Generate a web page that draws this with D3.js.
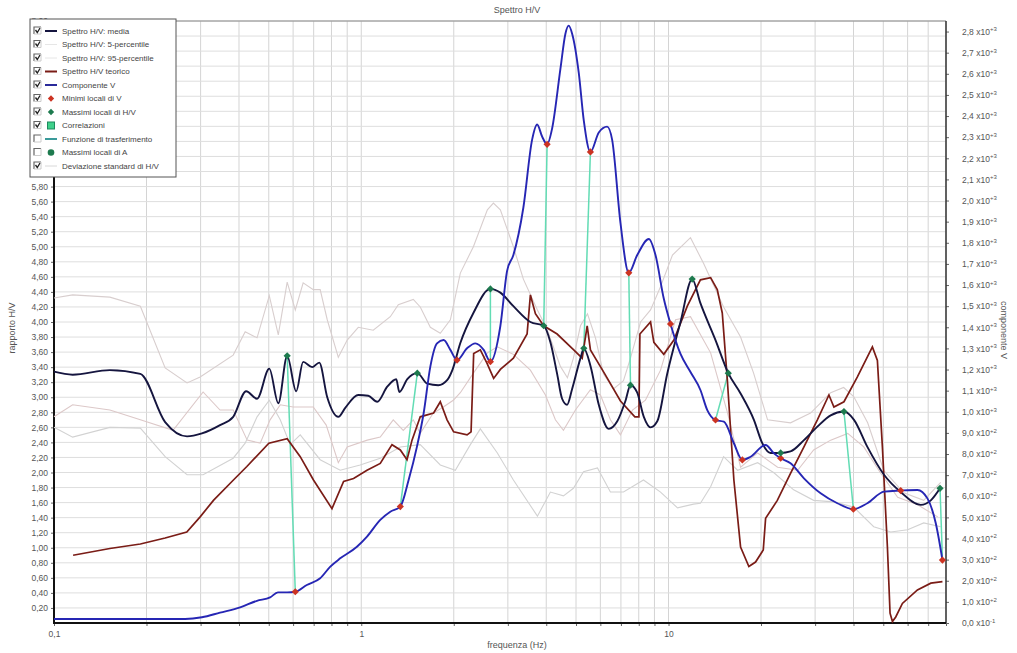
<!DOCTYPE html>
<html>
<head>
<meta charset="utf-8">
<script src="https://cdn.jsdelivr.net/npm/d3@7"></script>
<style>
  body { margin: 0; background: #fff; }
  text { font-family: "Liberation Sans", Arial, sans-serif; }
</style>
</head>
<body>
<svg id="chart" width="1017" height="653"></svg>
<script>
// ---- data: [frequenza Hz, valore] ----
var media = [[0.1,3.34],[0.115,3.30],[0.152,3.36],[0.191,3.31],[0.230,2.67],[0.271,2.48],[0.303,2.52],
  [0.347,2.63],[0.383,2.74],[0.422,3.08],[0.458,2.98],[0.502,3.38],[0.537,2.92],[0.574,3.55],[0.614,3.08],
  [0.647,3.47],[0.692,3.40],[0.730,3.46],[0.775,3.00],[0.842,2.74],[0.887,2.86],[0.978,3.03],[1.054,3.02],
  [1.127,2.94],[1.215,3.14],[1.300,3.24],[1.33,3.07],[1.412,3.24],[1.522,3.32],[1.641,3.18],[1.781,3.16],
  [1.906,3.23],[1.979,3.36],[2.101,3.72],[2.317,4.12],[2.632,4.44],[2.836,4.39],[3.127,4.21],[3.552,4.00],
  [3.925,3.95],[4.127,3.73],[4.340,3.31],[4.505,2.98],[4.677,2.90],[4.856,3.11],[5.17,3.52],[5.30,3.65],
  [5.57,3.42],[5.93,2.90],[6.39,2.58],[6.81,2.68],[7.24,2.95],[7.52,3.16],[7.91,3.06],[8.31,2.74],
  [8.74,2.60],[9.19,2.68],[9.90,3.31],[10.94,4.00],[11.94,4.57],[12.70,4.25],[14.22,3.76],[15.65,3.32],
  [17.16,3.05],[18.96,2.70],[20.19,2.39],[21.48,2.26],[23.17,2.26],[24.95,2.28],[27.59,2.43],[30.51,2.61],
  [33.71,2.76],[37.24,2.81],[40.15,2.70],[44.38,2.34],[50.27,1.97],[56.97,1.74],[66.2,1.57],[71.4,1.63],
  [76.5,1.79]];

var teorico = [[0.1154,0.90],[0.152,0.99],[0.191,1.05],[0.230,1.13],[0.2705,1.21],[0.299,1.41],[0.3303,1.63],
  [0.3837,1.90],[0.4243,2.08],[0.5004,2.39],[0.574,2.45],[0.633,2.21],[0.699,1.90],[0.803,1.52],[0.876,1.88],
  [0.944,1.92],[1.044,2.03],[1.153,2.12],[1.259,2.37],[1.340,2.30],[1.409,2.17],[1.463,2.43],[1.556,2.74],
  [1.720,2.79],[1.808,2.94],[1.902,2.70],[1.998,2.54],[2.210,2.50],[2.277,2.54],[2.322,3.58],[2.441,3.63],
  [2.567,3.45],[2.697,3.25],[2.836,3.37],[3.127,3.52],[3.465,3.84],[3.552,4.36],[3.688,4.11],[3.925,3.95],
  [4.340,3.84],[4.914,3.63],[5.237,3.52],[5.436,3.95],[5.57,3.63],[6.201,3.31],[6.976,2.95],[7.77,2.74],
  [8.01,2.74],[8.07,3.84],[8.74,4.00],[8.96,3.73],[9.65,3.57],[10.41,3.76],[11.51,4.21],[12.70,4.56],
  [13.71,4.59],[14.41,4.43],[14.96,4.12],[15.54,3.23],[16.32,1.90],[17.16,1.01],[18.26,0.75],[19.20,0.81],
  [20.34,0.97],[20.70,1.39],[22.60,1.63],[24.95,1.99],[27.59,2.34],[30.51,2.70],[33.27,3.03],[34.54,2.87],
  [37.24,2.94],[41.18,3.27],[46.08,3.67],[47.84,3.49],[49.67,2.34],[51.57,1.01],[52.6,0.13],[53.55,0.02],
  [54.89,0.08],[57.7,0.26],[64.59,0.44],[71.4,0.53],[77.9,0.55]];

var componenteV = [[0.1,19],[0.267,19],[0.303,27],[0.347,49],[0.4035,74],[0.4575,105],[0.505,121],[0.5356,145],
  [0.574,145],[0.610,148],[0.665,180],[0.735,212],[0.793,267],[0.854,306],[0.968,361],[1.044,409],[1.153,488],
  [1.243,527],[1.340,551],[1.426,677],[1.518,835],[1.596,993],[1.678,1214],[1.764,1324],[1.854,1340],
  [1.950,1293],[2.050,1245],[2.210,1301],[2.351,1324],[2.503,1293],[2.632,1237],[2.836,1406],[2.983,1667],
  [3.127,1742],[3.37,1967],[3.597,2287],[3.735,2360],[3.878,2303],[4.026,2266],[4.18,2341],[4.448,2623],
  [4.618,2790],[4.733,2828],[4.856,2790],[5.104,2604],[5.30,2378],[5.57,2230],[5.93,2322],[6.314,2350],
  [6.555,2287],[6.976,1894],[7.425,1658],[7.91,1742],[8.63,1818],[9.07,1742],[9.65,1536],[10.15,1416],
  [10.94,1274],[11.79,1188],[12.70,1103],[13.37,1008],[14.22,961],[15.14,953],[16.32,851],[17.39,772],
  [18.50,787],[20.70,843],[22.03,803],[23.17,780],[24.95,756],[27.59,685],[31.27,614],[35.44,567],
  [39.96,539],[44.38,567],[50.27,622],[56.97,627],[64.59,630],[69.6,590],[74.1,472],[77.9,298]];

var percentile95 = [[0.1,4.32],[0.115,4.36],[0.152,4.33],[0.191,4.21],[0.230,3.39],[0.271,3.19],[0.299,3.27],
  [0.383,3.56],[0.419,3.87],[0.458,3.79],[0.502,4.35],[0.537,3.83],[0.574,4.53],[0.610,4.16],[0.647,4.52],
  [0.698,4.43],[0.735,4.43],[0.775,4.03],[0.842,3.53],[0.900,3.76],[0.978,3.93],[1.094,3.89],[1.243,4.07],
  [1.320,4.23],[1.477,4.30],[1.556,4.20],[1.678,3.93],[1.808,3.85],[1.950,4.03],[2.101,4.65],[2.317,5.00],
  [2.573,5.49],[2.692,5.58],[2.836,5.49],[3.127,5.00],[3.37,4.57],[3.744,4.16],[4.036,3.89],[4.448,3.41],
  [4.688,3.26],[4.903,3.52],[5.17,3.95],[5.448,4.11],[5.785,3.79],[6.143,3.31],[6.62,3.11],[7.135,3.22],
  [7.52,3.52],[8.11,4.00],[8.74,4.16],[9.42,4.47],[10.30,4.89],[11.79,5.12],[13.0,4.78],[15.11,4.20],
  [17.16,3.80],[18.92,3.32],[21.01,2.70],[24.95,2.66],[29.0,2.79],[33.71,3.06],[37.15,3.13],[40.06,3.01],
  [44.48,2.66],[50.15,2.03],[58.3,1.73],[67.7,1.63],[76.9,1.87]];

var deviazione = [[0.1,2.74],[0.115,2.90],[0.152,2.83],[0.191,2.70],[0.244,2.56],[0.3057,3.07],[0.347,2.83],
  [0.383,2.83],[0.4253,2.43],[0.469,2.39],[0.505,2.70],[0.545,2.90],[0.600,2.87],[0.698,2.87],[0.769,2.63],
  [0.842,2.13],[0.900,2.34],[1.046,2.43],[1.153,2.47],[1.271,2.70],[1.370,2.56],[1.477,2.70],[1.556,2.52],
  [1.716,2.79],[1.85,2.87],[1.993,2.96],[2.101,3.06],[2.317,3.32],[2.573,3.59],[2.773,3.67],[3.127,3.57],
  [3.552,3.36],[3.975,3.03],[4.284,2.70],[4.55,2.56],[4.977,2.83],[5.57,3.10],[6.003,3.03],[6.47,2.70],
  [6.976,2.50],[7.633,2.83],[8.41,2.96],[9.42,3.36],[10.54,4.03],[11.79,4.07],[13.71,3.59],[15.57,2.79],
  [17.16,2.07],[19.5,2.26],[22.65,2.07],[26.33,2.03],[29.67,2.30],[33.71,2.43],[38.3,2.52],[43.2,2.34],
  [49.05,1.99],[55.7,1.67],[64.7,1.57],[75.2,1.41]];

var percentile5 = [[0.1,2.60],[0.115,2.47],[0.152,2.60],[0.191,2.59],[0.230,2.21],[0.271,1.97],[0.3057,1.97],
  [0.383,2.19],[0.419,2.39],[0.458,2.74],[0.502,2.96],[0.545,2.70],[0.587,2.37],[0.633,2.50],[0.735,2.17],
  [0.854,2.03],[0.992,2.10],[1.153,2.19],[1.340,2.34],[1.556,2.37],[1.808,2.10],[2.024,2.03],[2.265,2.37],
  [2.441,2.58],[2.773,2.26],[3.127,1.90],[3.744,1.42],[4.127,1.74],[4.55,1.69],[4.903,1.79],[5.288,2.01],
  [5.872,2.06],[6.47,1.74],[7.135,1.74],[8.29,1.90],[9.42,1.74],[10.70,1.53],[12.06,1.58],[12.70,1.59],
  [13.71,1.81],[15.11,2.21],[16.78,2.03],[19.5,2.13],[21.98,2.00],[25.54,1.77],[29.67,1.63],[34.47,1.61],
  [40.06,1.54],[46.54,1.28],[52.9,1.21],[60.0,1.24],[67.7,1.33],[76.9,1.28]];

var massimiHV = [[0.574,3.55],[1.522,3.32],[2.632,4.44],[3.925,3.95],[5.30,3.65],[7.52,3.16],[11.94,4.57],
  [15.65,3.32],[23.17,2.26],[37.24,2.81],[76.5,1.79]];
var minimiV = [[0.610,148],[1.340,551],[2.050,1245],[2.632,1237],[4.026,2266],[5.57,2230],[7.425,1658],
  [10.15,1416],[14.22,961],[17.39,772],[23.17,780],[39.96,539],[56.97,627],[77.9,298]];
// coppie [indice massimo H/V, indice minimo V]
var correlazioni = [[0,0],[1,1],[2,3],[3,4],[4,5],[5,6],[7,8],[8,10],[9,11],[10,13]];

var tickX = [0.1, 1, 10];
var tickSx = d3.range(1, 41).map(function(i) { return i * 0.2; });
var tickDx = d3.range(0, 29).map(function(i) { return i * 100; });

var legenda = [
  {t: "Spettro H/V: media", on: true, k: "line", c: "#15153f", w: 2},
  {t: "Spettro H/V: 5-percentile", on: true, k: "line", c: "#e6e6e6", w: 1},
  {t: "Spettro H/V: 95-percentile", on: true, k: "line", c: "#e6e6e6", w: 1},
  {t: "Spettro H/V teorico", on: true, k: "line", c: "#7a1c16", w: 2},
  {t: "Componente V", on: true, k: "line", c: "#2a2a9a", w: 2},
  {t: "Minimi locali di V", on: true, k: "diamond", c: "#cc3322"},
  {t: "Massimi locali di H/V", on: true, k: "diamond", c: "#1d7a4e"},
  {t: "Correlazioni", on: true, k: "square", c: "#3fd08a"},
  {t: "Funzione di trasferimento", on: false, k: "line", c: "#3a9a9a", w: 2},
  {t: "Massimi locali di A", on: false, k: "circle", c: "#1d7a4e"},
  {t: "Deviazione standard di H/V", on: true, k: "line", c: "#d8d8d8", w: 1}
];

// ---- chart ----
var svg = d3.select("#chart");
var L = 54, R = 946, T = 21, B = 623;

var x = d3.scaleLog().domain([0.1, 80]).range([L, R]);
var yS = d3.scaleLinear().domain([0, 8]).range([B, T]);
var yD = d3.scaleLinear().domain([0, 2850]).range([B, T]);

// grid
var vgrid = [];
[0.1, 1, 10].forEach(function(dec) {
  for (var k = 1; k <= 9; k++) { if (k * dec <= 80) vgrid.push(k * dec); }
});
svg.append("g").selectAll("line").data(vgrid).enter().append("line")
  .attr("x1", function(d) { return x(d); }).attr("x2", function(d) { return x(d); })
  .attr("y1", T).attr("y2", B)
  .attr("stroke", "#d4d4d4").attr("stroke-width", 1);
svg.append("g").selectAll("line").data(tickSx).enter().append("line")
  .attr("x1", L).attr("x2", R)
  .attr("y1", function(d) { return yS(d); }).attr("y2", function(d) { return yS(d); })
  .attr("stroke", "#dedede").attr("stroke-width", 1);

// axes
var fmt2 = function(d) { return d.toFixed(2).replace(".", ","); };
var axL = svg.append("g").attr("transform", "translate(" + L + ",0)")
  .call(d3.axisLeft(yS).tickValues(tickSx).tickSize(3).tickFormat(fmt2));
var axB = svg.append("g").attr("transform", "translate(0," + B + ")")
  .call(d3.axisBottom(x).tickValues(vgrid).tickSize(3)
    .tickFormat(function(d) { return tickX.indexOf(d) >= 0 ? String(d).replace(".", ",") : ""; }));
var axR = svg.append("g").attr("transform", "translate(" + R + ",0)")
  .call(d3.axisRight(yD).tickValues(tickDx).tickSize(3).tickFormat(""));

[axL, axB, axR].forEach(function(a) {
  a.select(".domain").remove();
  a.selectAll(".tick line").attr("stroke", "#666");
  a.selectAll("text").attr("fill", "#555").style("font-size", "8.5px")
    .style("font-family", "'Liberation Sans', Arial, sans-serif");
});
axB.selectAll("text").attr("dy", "0.9em");

// right tick labels in the form m,m x10^e
axR.selectAll(".tick").each(function(d) {
  var e, m;
  if (d === 0) { m = "0,0"; e = "-1"; }
  else { e = Math.floor(Math.log10(d) + 1e-9); m = (d / Math.pow(10, e)).toFixed(1).replace(".", ","); e = "+" + e; }
  var t = d3.select(this).append("text").attr("x", 16).attr("dy", "0.32em")
    .attr("fill", "#555").style("font-size", "8.5px");
  t.append("tspan").text(m + " x10");
  t.append("tspan").attr("dy", "-0.55em").style("font-size", "6px").text(e);
});

// frame
svg.append("line").attr("x1", L).attr("x2", R).attr("y1", T).attr("y2", T).attr("stroke", "#888");
svg.append("line").attr("x1", R).attr("x2", R).attr("y1", T).attr("y2", B).attr("stroke", "#333").attr("stroke-width", 1.5);
svg.append("line").attr("x1", L).attr("x2", L).attr("y1", T).attr("y2", B + 1).attr("stroke", "#111").attr("stroke-width", 2);
svg.append("line").attr("x1", L).attr("x2", R).attr("y1", B).attr("y2", B).attr("stroke", "#111").attr("stroke-width", 2);

// series
var lineS = d3.line().x(function(d) { return x(d[0]); }).y(function(d) { return yS(d[1]); });
var lineSm = d3.line().curve(d3.curveMonotoneX).x(function(d) { return x(d[0]); }).y(function(d) { return yS(d[1]); });
var lineD = d3.line().curve(d3.curveMonotoneX).x(function(d) { return x(d[0]); }).y(function(d) { return yD(d[1]); });
var plot = svg.append("g");

[[percentile95, "#d8cece"], [deviazione, "#dcc8c8"], [percentile5, "#d2d2d2"]].forEach(function(s) {
  plot.append("path").datum(s[0]).attr("d", lineS).attr("fill", "none")
    .attr("stroke", s[1]).attr("stroke-width", 1.1);
});

plot.append("g").selectAll("line").data(correlazioni).enter().append("line")
  .attr("x1", function(d) { return x(massimiHV[d[0]][0]); })
  .attr("y1", function(d) { return yS(massimiHV[d[0]][1]); })
  .attr("x2", function(d) { return x(minimiV[d[1]][0]); })
  .attr("y2", function(d) { return yD(minimiV[d[1]][1]); })
  .attr("stroke", "#62dcb4").attr("stroke-width", 1.5);

plot.append("path").datum(teorico).attr("d", lineS).attr("fill", "none")
  .attr("stroke", "#7a1c16").attr("stroke-width", 1.7);
plot.append("path").datum(media).attr("d", lineSm).attr("fill", "none")
  .attr("stroke", "#15153f").attr("stroke-width", 1.9);
plot.append("path").datum(componenteV).attr("d", lineD).attr("fill", "none")
  .attr("stroke", "#2626b4").attr("stroke-width", 1.9);

var rombo = d3.symbol().type(d3.symbolSquare).size(26);
plot.append("g").selectAll("path").data(minimiV).enter().append("path")
  .attr("d", rombo).attr("fill", "#cc3322")
  .attr("transform", function(d) { return "translate(" + x(d[0]) + "," + yD(d[1]) + ") rotate(45)"; });
plot.append("g").selectAll("path").data(massimiHV).enter().append("path")
  .attr("d", rombo).attr("fill", "#1d7a4e")
  .attr("transform", function(d) { return "translate(" + x(d[0]) + "," + yS(d[1]) + ") rotate(45)"; });

// titles
svg.append("text").attr("x", 517).attr("y", 13).attr("text-anchor", "middle")
  .attr("fill", "#555").style("font-size", "9px").text("Spettro H/V");
svg.append("text").attr("x", 517).attr("y", 648).attr("text-anchor", "middle")
  .attr("fill", "#555").style("font-size", "9px").text("frequenza (Hz)");
svg.append("text").attr("transform", "translate(15,328) rotate(-90)").attr("text-anchor", "middle")
  .attr("fill", "#555").style("font-size", "9px").text("rapporto H/V");
svg.append("text").attr("transform", "translate(1001,330) rotate(90)").attr("text-anchor", "middle")
  .attr("fill", "#555").style("font-size", "9px").text("componente V");

// legend
var lg = svg.append("g").attr("transform", "translate(30,19)");
lg.append("rect").attr("width", 146).attr("height", 158).attr("fill", "#fff").attr("stroke", "#555");
legenda.forEach(function(it, i) {
  var g = lg.append("g").attr("transform", "translate(0," + (12 + i * 13.5) + ")");
  g.append("path").attr("d", "M4,3 V-4 H11").attr("fill", "none").attr("stroke", "#666").attr("stroke-width", 1.2);
  g.append("path").attr("d", "M11,-4 V3 H4").attr("fill", "none").attr("stroke", "#ccc").attr("stroke-width", 1);
  if (it.on) g.append("path").attr("d", "M5.5,-1 L7.3,1.5 L10,-3").attr("fill", "none").attr("stroke", "#222").attr("stroke-width", 1.3);
  if (it.k === "line") {
    g.append("line").attr("x1", 15).attr("x2", 27).attr("y1", 0).attr("y2", 0)
      .attr("stroke", it.c).attr("stroke-width", it.w);
  } else if (it.k === "diamond") {
    g.append("path").attr("d", d3.symbol().type(d3.symbolSquare).size(20)).attr("fill", it.c)
      .attr("transform", "translate(21,0) rotate(45)");
  } else if (it.k === "square") {
    g.append("rect").attr("x", 17.5).attr("y", -3.5).attr("width", 7).attr("height", 7)
      .attr("fill", it.c).attr("stroke", "#1d8a5e");
  } else {
    g.append("circle").attr("cx", 21).attr("cy", 0).attr("r", 3.3).attr("fill", it.c);
  }
  g.append("text").attr("x", 32).attr("y", 0).attr("dy", "0.33em")
    .attr("fill", "#444").style("font-size", "8px").text(it.t);
});
</script>
</body>
</html>
